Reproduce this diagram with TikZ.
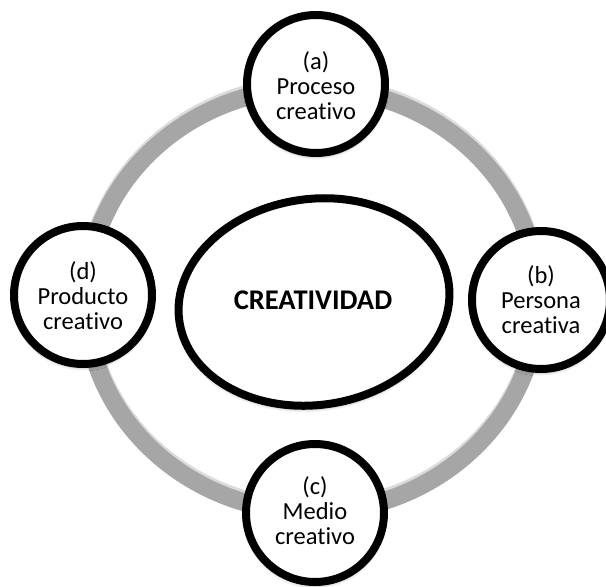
\documentclass[tikz,border=0pt]{standalone}
\usepackage{fontspec}
\setmainfont[Ligatures={NoCommon}]{Carlito}
\usetikzlibrary{shapes.geometric,shadows.blur}
\definecolor{ringgray}{HTML}{A6A6A6}
\begin{document}
\begin{tikzpicture}[x=1pt,y=-1pt,
  softshadow/.style={blur shadow={shadow xshift=0pt, shadow yshift=-3pt,
      shadow blur radius=4pt, shadow blur steps=8, shadow opacity=40}},
  stage/.style={circle, draw=black, line width=8pt, fill=white,
      minimum size=138pt, inner sep=0pt, softshadow},
  stagetext/.style={align=center, inner sep=0pt,
      font=\fontsize{24.5}{25}\selectfont},
  coreshape/.style={ellipse, draw=black, line width=8pt, fill=white,
      minimum width=272pt, minimum height=206pt, inner sep=0pt, softshadow},
  coretext/.style={inner sep=0pt, font=\fontsize{28.5}{30}\selectfont\bfseries},
  ringline/.style={line width=18pt, draw=ringgray}]
\useasboundingbox (0,0) rectangle (606,587);

% the cycle ring behind everything, with a faint shadow
\coordinate (ringc) at (312,300);
\draw[line width=18pt, draw=black!14] ([yshift=3pt]ringc) ellipse [x radius=226, y radius=212];
\draw[ringline] (ringc) ellipse [x radius=226, y radius=212];

% central oval
\node[coreshape, rotate=8] (core) at (314,302) {};
\node[coretext] (coret) at (313,300) {CREATIVIDAD};

% the four stages
\node[stage] (a) at (316,84) {};
\node[stagetext] (at) at (316,86) {(a)\\Proceso\\creativo};

\node[stage] (b) at (541,300) {};
\node[stagetext] (bt) at (541,300) {(b)\\Persona\\creativa};

\node[stage] (c) at (315,513) {};
\node[stagetext] (ct) at (315,511) {(c)\\Medio\\creativo};

\node[stage] (d) at (83,295) {};
\node[stagetext] (dt) at (83,296) {(d)\\Producto\\creativo};
\end{tikzpicture}
\end{document}
